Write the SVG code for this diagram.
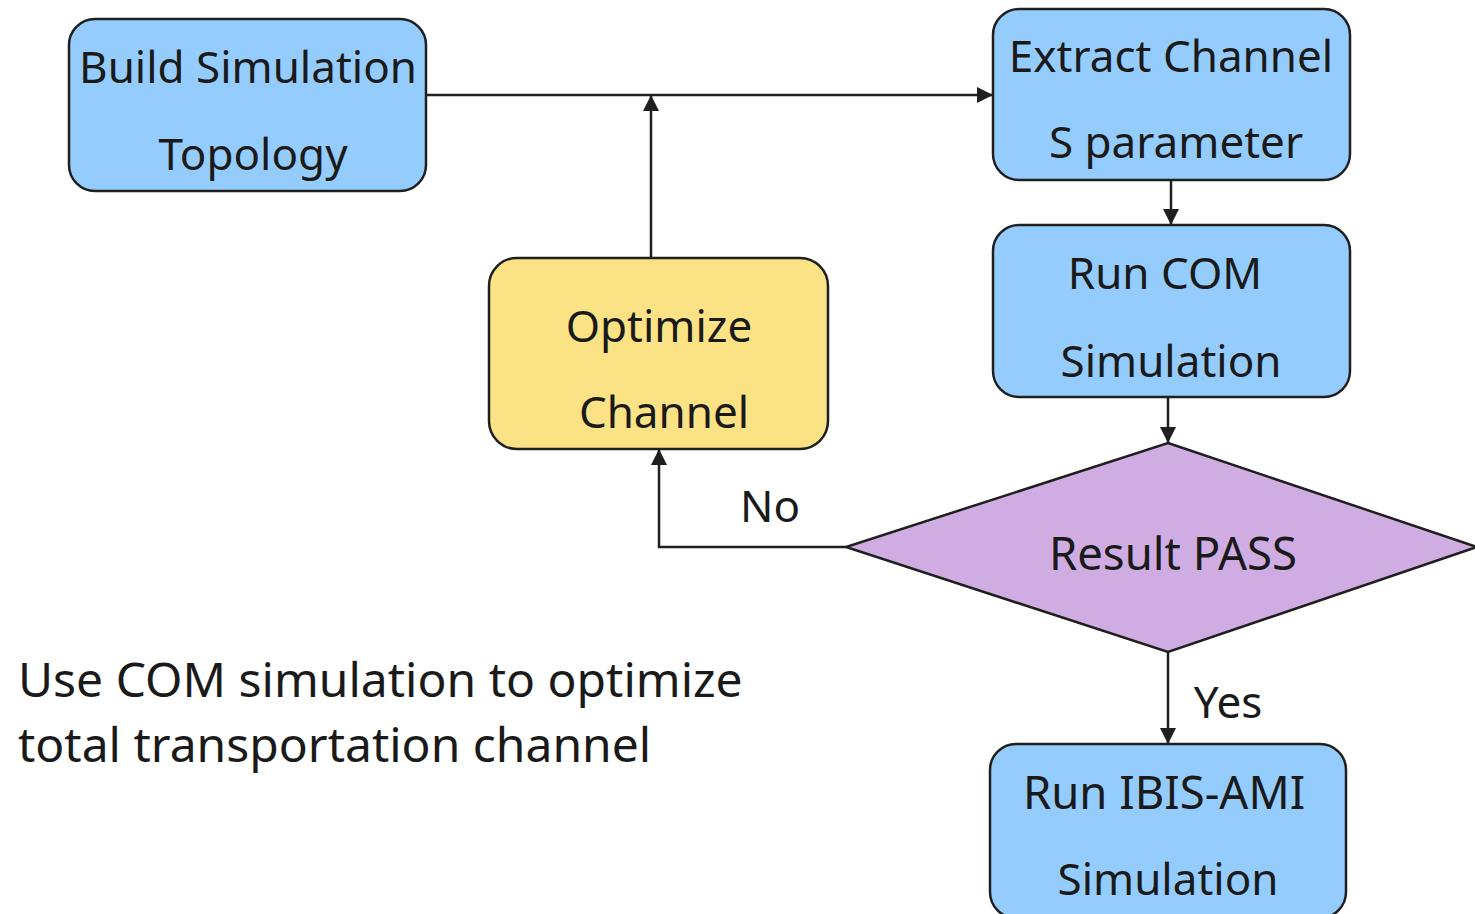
<svg xmlns="http://www.w3.org/2000/svg" width="1475" height="914" viewBox="0 0 1475 914">
<defs>
<marker id="ah" viewBox="0 0 16 16" refX="16" refY="8" markerWidth="16" markerHeight="16" orient="auto" markerUnits="userSpaceOnUse">
<path d="M0,0 L16,8 L0,16 z" fill="#1f1f1f"/>
</marker>
<style>
.box{fill:#94cdfd;stroke:#1f1f1f;stroke-width:2.5}
.opt{fill:#fbe385;stroke:#1f1f1f;stroke-width:2.5}
.dia{fill:#cfade3;stroke:#1f1f1f;stroke-width:2.5}
.t{font-family:"Noto Sans","Open Sans","DejaVu Sans",sans-serif;font-size:44px;fill:#1a1a1a;text-anchor:middle}
.n{font-family:"Noto Sans","Open Sans","DejaVu Sans",sans-serif;font-size:48px;fill:#1a1a1a}
.c{fill:none;stroke:#1f1f1f;stroke-width:2.5;marker-end:url(#ah)}
</style>
</defs>
<rect width="1475" height="914" fill="#ffffff"/>
<g id="connectors">
<path class="c" d="M426,95 H993"/>
<path class="c" d="M651,258 V95"/>
<path class="c" d="M1171,180 V225"/>
<path class="c" d="M1168,397 V443"/>
<path class="c" d="M846,547 H659 V449"/>
<path class="c" d="M1168,652 V744"/>
<text class="t" x="770" y="522">No</text>
<text class="t" x="1228" y="718">Yes</text>
</g>
<g id="build">
<rect class="box" x="69" y="19" width="357" height="172" rx="26"/>
<text class="t" x="248" y="83">Build Simulation</text>
<text class="t" x="253" y="170">Topology</text>
</g>
<g id="extract">
<rect class="box" x="993" y="9" width="357" height="171" rx="26"/>
<text class="t" x="1171" y="72">Extract Channel</text>
<text class="t" x="1176" y="158">S parameter</text>
</g>
<g id="runcom">
<rect class="box" x="993" y="225" width="357" height="172" rx="26"/>
<text class="t" x="1165" y="289">Run COM</text>
<text class="t" x="1171" y="377">Simulation</text>
</g>
<g id="optimize">
<rect class="opt" x="489" y="258" width="339" height="191" rx="28"/>
<text class="t" x="659" y="342">Optimize</text>
<text class="t" x="664" y="428">Channel</text>
</g>
<g id="result">
<polygon class="dia" points="1168,443 1477,547 1168,652 846,547"/>
<text class="t" x="1173" y="570" style="font-size:45.5px">Result PASS</text>
</g>
<g id="ibis">
<rect class="box" x="990" y="744" width="356" height="174" rx="26"/>
<text class="t" x="1164" y="809" style="font-size:45.5px">Run IBIS-AMI</text>
<text class="t" x="1168" y="895">Simulation</text>
</g>
<g id="note">
<text class="n" x="18" y="697">Use COM simulation to optimize</text>
<text class="n" x="18" y="762">total transportation channel</text>
</g>
</svg>
